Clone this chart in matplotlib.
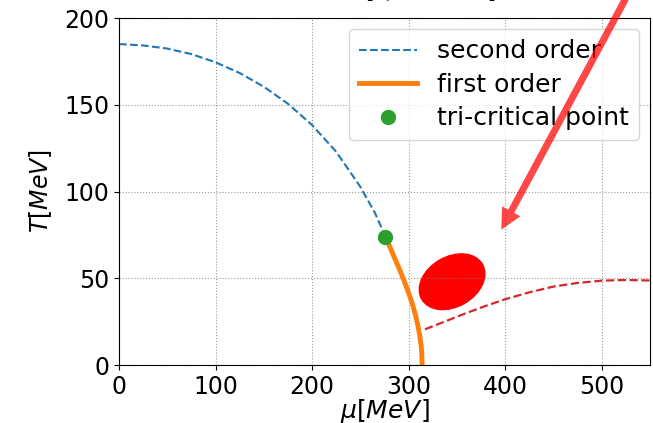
import numpy as np
import matplotlib
matplotlib.use("Agg")
import matplotlib.pyplot as plt
from matplotlib.patches import Ellipse
from matplotlib.transforms import ScaledTranslation

# second order line (crossover)
mu_2nd = [0, 25, 50, 75, 100, 125, 150, 175, 200, 225, 250, 265, 276]
T_2nd = [185, 184.2, 182.4, 179.2, 174.5, 168.3, 160.4, 150.6, 138.3, 122.9, 102.7, 87.8, 74]

# first order line
mu_1st = [276, 281, 286, 291, 296, 300, 304, 307, 309.5, 311.5, 313, 313.8, 314]
T_1st = [74, 67.5, 61, 54.5, 47.5, 41.5, 35, 29, 23, 17, 11, 5, 0]

# tri-critical point
mu_tcp = [276]
T_tcp = [74]

# red dashed line
mu_red = [317, 340, 360, 380, 400, 425, 450, 475, 500, 525, 550]
T_red = [20.6, 25.6, 30, 34.1, 37.9, 41.9, 45.2, 47.3, 48.6, 49.0, 48.7]

# red blob and arrow
blob_center = (345, 48)
arrow_tip = (396, 78)
arrow_tail = (541, 228)

fig = plt.figure(figsize=(6.53, 4.23), dpi=100)
ax = fig.add_axes([0.1822, 0.1371, 0.8132, 0.8203])

ax.plot(mu_2nd, T_2nd, '--', color='tab:blue', lw=1.5, label='second order')
ax.plot(mu_1st, T_1st, '-', color='tab:orange', lw=3.5, label='first order')
ax.plot(mu_tcp, T_tcp, 'o', color='tab:green', ms=10, label='tri-critical point')
ax.plot(mu_red, T_red, '--', color='tab:red', lw=1.6)

# ellipse sized in inches, placed at a data point
tr = fig.dpi_scale_trans + ScaledTranslation(blob_center[0], blob_center[1], ax.transData)
ax.add_patch(Ellipse((0, 0), 0.70, 0.50, angle=30, color='red', transform=tr))

ax.annotate('', xy=arrow_tip, xytext=arrow_tail, annotation_clip=False, zorder=10,
            arrowprops=dict(facecolor='red', edgecolor='none', alpha=0.72,
                            width=5, headwidth=15, headlength=15, shrink=0))

ax.set_xlim(0, 550)
ax.set_ylim(0, 200)
ax.set_xticks([0, 100, 200, 300, 400, 500])
ax.set_yticks([0, 50, 100, 150, 200])
ax.tick_params(labelsize=17)
ax.set_xlabel(r'$\mu[MeV]$', fontsize=18, labelpad=-1)
ax.set_ylabel(r'$T[MeV]$', fontsize=17, labelpad=7)
# title sits mostly above the figure edge, as in the reference
ax.text(256, 1.057, '[QM model]', transform=ax.get_xaxis_transform(),
        fontsize=16, ha='left', va='baseline')
ax.grid(True, linestyle=':', color='gray', alpha=0.8)
ax.legend(loc='upper right', fontsize=18, labelspacing=0.38, borderpad=0.4,
          handlelength=2.3, borderaxespad=0.45)

fig.savefig('out.png', dpi=100)
